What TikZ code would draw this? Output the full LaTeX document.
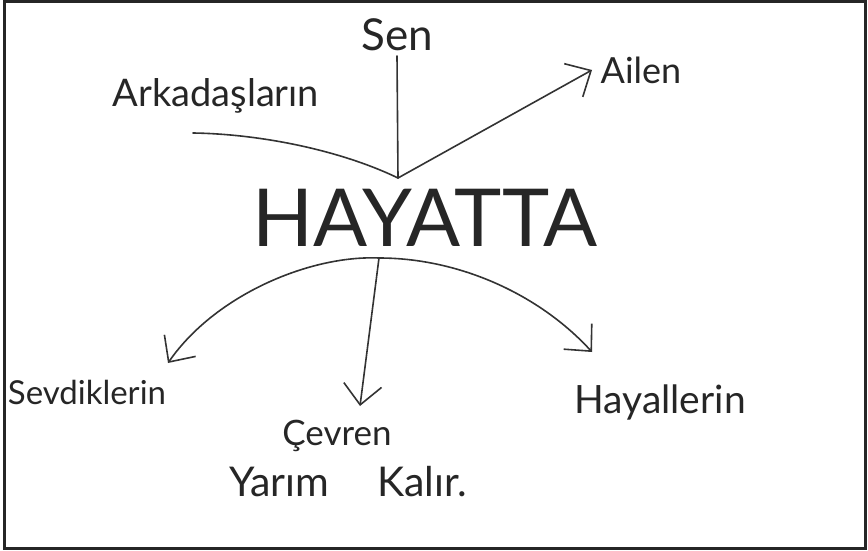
\documentclass[tikz,border=0pt]{standalone}
\usepackage{fontspec}
\setmainfont{Lato}
\usetikzlibrary{arrows.meta}
\tikzset{
  word/.style={inner sep=0pt, text=black!85},
  link/.style={draw=black!80, line width=1.6pt, line cap=round},
  bigtip/.tip={Straight Barb[length=20pt,width=38pt,line width=1.6pt]},
  arr/.style={link, -bigtip}
}
\begin{document}
\begin{tikzpicture}[x=1pt,y=-1pt]
\useasboundingbox (0,0) rectangle (868,551);
\draw[line width=3pt, draw=black!85] (4,2) rectangle (865,548);
% nodes
\node[word, font=\fontsize{44}{48}\selectfont] (sen) at (397,35) {Sen};
\node[word, font=\fontsize{38}{42}\selectfont] (ark) at (216,96) {Arkadaşların};
\node[word, font=\fontsize{36}{40}\selectfont] (ail) at (641,70) {Ailen};
\node[word, font=\fontsize{80}{84}\selectfont] (hay) at (425,218) {HAYATTA};
\node[word, font=\fontsize{33}{36}\selectfont] (sev) at (87,392) {Sevdiklerin};
\node[word, font=\fontsize{35}{38}\selectfont] (cev) at (337,436) {Çevren};
\node[word, font=\fontsize{39}{42}\selectfont] (hyl) at (660,402) {Hayallerin};
\node[word, font=\fontsize{41}{44}\selectfont] (yk) at (348,482) {Yarım\hspace{48pt}Kalır.};
% hubs
\coordinate (top) at (398,178);
\coordinate (bot) at (379,258);
\coordinate (arkend) at (193,133);
\coordinate (senend) at (397,56);
\coordinate (ailtip) at (592,70);
\coordinate (sevtip) at (168,363);
\coordinate (cevtip) at (360,406);
\coordinate (hyltip) at (592,352);
% connectors
\draw[link] (senend) -- (top);
\draw[link] (arkend) .. controls (260,134) and (340,150) .. (top);
\draw[arr] (top) -- (ailtip);
\draw[arr] (bot) .. controls (310,255) and (215,295) .. (sevtip);
\draw[arr] (bot) -- (cevtip);
\draw[arr] (bot) .. controls (460,258) and (540,295) .. (hyltip);
\end{tikzpicture}
\end{document}
